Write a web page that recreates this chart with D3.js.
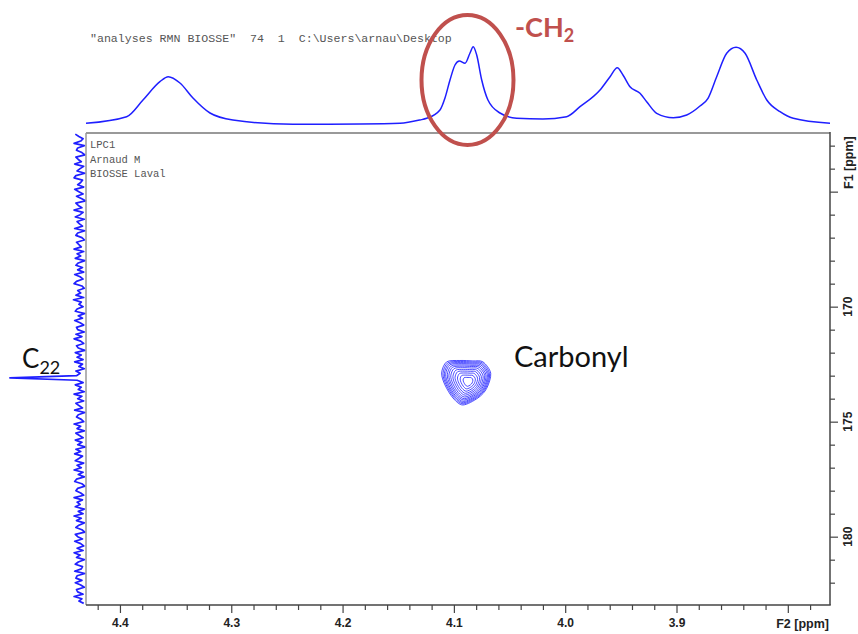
<!DOCTYPE html>
<html><head><meta charset="utf-8">
<script src="https://cdn.jsdelivr.net/npm/d3@7"></script>
<style>
html,body{margin:0;padding:0;background:#fff;}
svg{display:block;}
</style></head>
<body>
<svg id="chart" width="858" height="634"></svg>
<script>
// ---------- DATA ----------
// F2 (1H) axis
const f2Domain = [4.4305, 3.7621];
const f2MajorTicks = [4.4, 4.3, 4.2, 4.1, 4.0, 3.9, 3.8];
const f2TickLabels = ["4.4", "4.3", "4.2", "4.1", "4.0", "3.9", ""];
const f2MinorTicks = [4.42,4.38,4.36,4.34,4.32,4.28,4.26,4.24,4.22,4.18,4.16,4.14,4.12,4.08,4.06,4.04,4.02,3.98,3.96,3.94,3.92,3.88,3.86,3.84,3.82,3.78];
const f2Title = "F2 [ppm]";
// F1 (13C) axis
const f1Domain = [162.45, 182.97];
const f1MajorTicks = [165, 170, 175, 180];
const f1TickLabels = ["", "170", "175", "180"];
const f1MinorTicks = [163,164,166,167,168,169,171,172,173,174,176,177,178,179,181,182];
const f1Title = "F1 [ppm]";

// top 1H projection: ppm and intensity
const topPpm = [4.4305,4.394,4.3793,4.3641,4.3566,4.3461,4.3344,4.3191,4.2985,4.2446,4.1844,4.1484,4.1305,4.1244,4.1125,4.108,4.1035,4.099,4.0951,4.09,4.0855,4.0826,4.0795,4.075,4.0694,4.0586,4.0436,4.02,3.9987,3.9867,3.9687,3.9597,3.9532,3.9481,3.9418,3.9328,3.9268,3.9178,3.9029,3.8908,3.8789,3.8717,3.8639,3.8549,3.8465,3.8384,3.8279,3.8189,3.807,3.7951,3.7621];
const topInt = [1.7,8.3,25,43.3,48.3,42,27,12,5,0.7,1,1.7,5,6.7,15,27,45,60,64,61.7,72,78.3,70,45,25,12,6.7,6,8.3,18.3,35,48.3,57.3,50,38.3,31.7,23.3,11.7,7.3,10,19,26.7,48.3,71.7,77.7,71.7,45,25,13.3,6.7,1.7];

// left 13C projection: F1 from 162.5 step 0.1
const leftStart = 162.5, leftStep = 0.1;
const leftInt = [
 0.7,0.1,-0.6,-0.2,0.9,-0.8,0.3,0.5,-0.4,-0.9,0.6,0.2,-0.3,0.8,-0.7,
 -0.1,0.4,-0.9,0.6,0.9,-0.5,-0.2,0.3,-0.7,0.8,0.1,-0.6,0.5,-0.3,-1.0,
 0.6,0.2,-0.4,0.9,-0.6,-0.1,0.7,-0.8,0.4,0.0,-0.5,0.8,-0.9,0.3,0.6,
 -0.4,-0.8,0.5,0.1,-0.3,0.9,-0.7,0.4,-0.2,0.7,-0.9,0.2,0.6,-0.5,0.3,
 -0.7,0.8,-0.1,-0.6,0.5,0.9,-0.4,-0.8,0.3,-0.2,0.6,-0.7,1.0,-0.3,0.1,
 -0.6,0.4,0.7,-0.9,0.2,-0.5,0.8,-0.1,-0.7,0.5,0.3,-0.8,0.6,-0.4,0.9,
 -0.2,-0.7,0.5,0.2,-0.9,0.7,-0.3,0.4,-0.6,0.8,-0.5,0.1,-0.8,0.6,-0.1,
 0.5,11.6,0.4,-0.6,0.7,-0.3,0.2,-0.8,0.9,-0.4,0.3,-0.7,0.6,0.1,-0.5,
 0.8,-0.9,0.2,0.5,-0.3,-0.7,0.9,-0.2,0.4,-0.8,0.6,0.0,-0.6,0.7,-0.4,
 0.3,-1.0,0.6,-0.2,0.8,-0.5,0.1,0.7,-0.7,0.4,-0.3,0.9,-0.6,0.2,-0.8,
 0.5,0.8,-0.4,-0.9,0.3,0.6,-0.2,-0.7,0.9,-0.5,0.4,-0.1,0.7,-0.8,0.2,
 -0.6,0.9,-0.3,0.5,-0.8,0.1,0.6,-0.4,-0.9,0.7,0.3,-0.5,0.8,-0.2,-0.7,
 0.4,-0.6,0.9,-0.1,0.5,-0.8,0.2,0.7,-0.5,-0.3,0.8,-0.9,0.4,0.6,-0.4,
 0.7,-0.2,-0.8,0.5,0.3,-0.6,0.9,-0.4,0.1,-0.7];

// 2D cross peak: centre and outer contour outline (ppm, F1)
const peakCenter = [4.0869, 173.261];
const outlinePpm = [4.1110,4.1065,4.0946,4.0829,4.0739,4.0669,4.0705,4.0784,4.0919,4.1008,4.1080];
const outlineF1 = [172.883,172.40,172.34,172.36,172.40,172.896,173.548,173.970,174.274,173.970,173.404];
const contourLevels = [1.0,0.95,0.9,0.85,0.79,0.73,0.66,0.58,0.50,0.41,0.31,0.2];

// texts
const headerText = '"analyses RMN BIOSSE"  74  1  C:\\Users\\arnau\\Desktop';
const infoLines = ["LPC1", "Arnaud M", "BIOSSE Laval"];

// ---------- DRAW ----------
const svg = d3.select("#chart");
const plot = {l: 86, r: 830, t: 133, b: 605};
const x = d3.scaleLinear().domain(f2Domain).range([plot.l, plot.r]);
const y = d3.scaleLinear().domain(f1Domain).range([plot.t, plot.b]);
const yTop = d3.scaleLinear().domain([0, 80]).range([125, 45]);
const xLeft = d3.scaleLinear().domain([-1, 12]).range([85.5, 7.5]);
const blue = "#1f1fff";

// header text
svg.append("text").attr("x", 90).attr("y", 42)
  .attr("font-family", "'Liberation Mono', 'DejaVu Sans Mono', monospace")
  .attr("font-size", 11.6).attr("fill", "#555")
  .style("white-space", "pre").text(headerText);

// top projection
const topData = topPpm.map((p, i) => [p, topInt[i]]);
svg.append("path").datum(topData)
  .attr("fill", "none").attr("stroke", blue).attr("stroke-width", 1.5)
  .attr("d", d3.line().x(d => x(d[0])).y(d => yTop(d[1])).curve(d3.curveMonotoneX));

// left projection
const leftData = leftInt.map((v, i) => [leftStart + i * leftStep, v]);
svg.append("path").datum(leftData)
  .attr("fill", "none").attr("stroke", blue).attr("stroke-width", 1.7)
  .attr("stroke-linejoin", "round")
  .attr("d", d3.line().x(d => xLeft(d[1])).y(d => y(d[0])));

// frame
svg.append("line").attr("x1", plot.l).attr("x2", plot.r).attr("y1", plot.t).attr("y2", plot.t)
  .attr("stroke", "#999").attr("stroke-width", 2);
svg.append("line").attr("x1", plot.l).attr("x2", plot.l).attr("y1", plot.t).attr("y2", plot.b)
  .attr("stroke", "#999").attr("stroke-width", 1.5);
svg.append("line").attr("x1", plot.r).attr("x2", plot.r).attr("y1", plot.t - 1).attr("y2", plot.b)
  .attr("stroke", "#444").attr("stroke-width", 1.5);
svg.append("line").attr("x1", plot.l).attr("x2", plot.r + 0.75).attr("y1", plot.b).attr("y2", plot.b)
  .attr("stroke", "#444").attr("stroke-width", 1.5);

// x axis
const axFont = "'Liberation Sans', Arial, sans-serif";
const axSize = 12;
const gx = svg.append("g").attr("transform", `translate(0,${plot.b})`);
gx.append("g").call(d3.axisBottom(x).tickValues(f2MinorTicks).tickSize(5).tickFormat(""))
  .call(g => g.select(".domain").remove());
gx.append("g").call(d3.axisBottom(x).tickValues(f2MajorTicks).tickSize(8).tickPadding(5)
  .tickFormat((d, i) => f2TickLabels[i]))
  .call(g => g.select(".domain").remove());
gx.selectAll("line").attr("stroke", "#444").attr("stroke-width", 1.2);
gx.selectAll("text").attr("font-family", axFont).attr("font-size", axSize)
  .attr("font-weight", "bold").attr("fill", "#222");
svg.append("text").attr("x", 829).attr("y", 628).attr("text-anchor", "end")
  .attr("font-family", axFont).attr("font-size", 12.5).attr("font-weight", "bold")
  .attr("fill", "#222").text(f2Title);

// y axis (right)
const gy = svg.append("g").attr("transform", `translate(${plot.r},0)`);
gy.append("g").call(d3.axisRight(y).tickValues(f1MinorTicks).tickSize(5).tickFormat(""))
  .call(g => g.select(".domain").remove());
gy.append("g").call(d3.axisRight(y).tickValues(f1MajorTicks).tickSize(8).tickFormat(""))
  .call(g => g.select(".domain").remove());
gy.selectAll("line").attr("stroke", "#444").attr("stroke-width", 1.2);
f1MajorTicks.forEach((v, i) => {
  if (!f1TickLabels[i]) return;
  svg.append("text").attr("transform", `translate(852,${y(v)}) rotate(-90)`)
    .attr("text-anchor", "middle").attr("font-family", axFont).attr("font-size", axSize)
    .attr("font-weight", "bold").attr("fill", "#222").text(f1TickLabels[i]);
});
svg.append("text").attr("transform", `translate(853,189) rotate(-90)`)
  .attr("text-anchor", "start").attr("font-family", axFont).attr("font-size", 12.5)
  .attr("font-weight", "bold").attr("fill", "#222").text(f1Title);

// info text inside plot
infoLines.forEach((t, i) => {
  svg.append("text").attr("x", 90).attr("y", 148 + i * 14.5)
    .attr("font-family", "'Liberation Mono', 'DejaVu Sans Mono', monospace")
    .attr("font-size", 10.5).attr("fill", "#555").style("white-space", "pre").text(t);
});

// contours
const outline = outlinePpm.map((p, i) => [p, outlineF1[i]]);
const cLine = d3.line().curve(d3.curveCardinalClosed.tension(0.1));
contourLevels.forEach(s => {
  const pts = outline.map(([p, f]) => [
    x(peakCenter[0] + (p - peakCenter[0]) * s),
    y(peakCenter[1] + (f - peakCenter[1]) * s)
  ]);
  svg.append("path").attr("d", cLine(pts)).attr("fill", "none")
    .attr("stroke", blue).attr("stroke-width", 0.8);
});

// annotations
const annFont = "Lato, 'Open Sans', sans-serif";
svg.append("ellipse").attr("cx", 467.5).attr("cy", 80).attr("rx", 46).attr("ry", 65)
  .attr("fill", "none").attr("stroke", "#c0504d").attr("stroke-width", 4);
const ch2 = svg.append("text").attr("x", 515).attr("y", 37)
  .attr("font-family", annFont).attr("font-size", 27).attr("font-weight", "bold").attr("fill", "#c0504d");
ch2.append("tspan").text("-CH");
ch2.append("tspan").attr("font-size", 18).attr("dy", 5).text("2");

svg.append("text").attr("x", 514).attr("y", 367)
  .attr("font-family", annFont).attr("font-size", 29).attr("fill", "#111").text("Carbonyl");

const c22 = svg.append("text").attr("x", 22).attr("y", 368)
  .attr("font-family", annFont).attr("font-size", 26).attr("fill", "#111");
c22.append("tspan").text("C");
c22.append("tspan").attr("font-size", 18).attr("dy", 6).text("22");
</script>
</body></html>
